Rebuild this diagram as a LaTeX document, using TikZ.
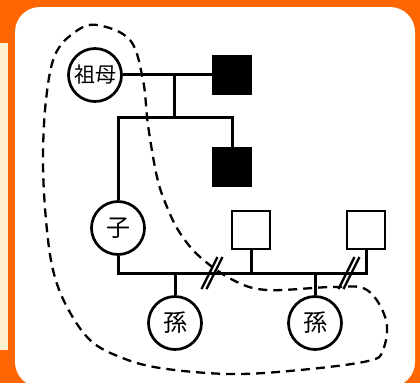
\documentclass[tikz,border=0pt]{standalone}
\usepackage{fontspec}
\newfontfamily\jp{Noto Sans CJK JP}
\definecolor{bgorange}{HTML}{FF6600}
\definecolor{cream}{HTML}{FFF1CF}
\begin{document}
\begin{tikzpicture}[x=1pt,y=-1pt,
  line/.style={line width=3pt},
  person/.style={circle,draw,line width=2.7pt,minimum size=53pt,inner sep=0pt,font=\jp\fontsize{24}{24}\selectfont},
  elder/.style={person,font=\jp\fontsize{21}{21}\selectfont},
  male/.style={rectangle,draw,line width=2.5pt,minimum size=38pt,inner sep=0pt},
  affected/.style={male,fill=black},
  kin/.style={line width=2.3pt,dash pattern=on 9pt off 6pt}]
\useasboundingbox (0,0) rectangle (420,383);
\clip (0,0) rectangle (420,383);
\fill[bgorange] (0,0) rectangle (420,383);
\fill[cream] (0,43) rectangle (8,350);
\fill[white,rounded corners=25pt] (15,7) rectangle (415,387);

% people
\node[elder] (gm) at (95,75) {祖母};
\node[affected] (gf) at (232,75) {};
\node[affected] (un) at (232,167) {};
\node[person] (ch) at (118,228) {子};
\node[male] (h1) at (251,230) {};
\node[male] (h2) at (366,230) {};
\node[person] (g1) at (175,323) {孫};
\node[person] (g2) at (315,323) {孫};

% coordinates
\coordinate (m1) at (174,74);
\coordinate (sib) at (174,117);
\coordinate (ml) at (0,273);
\coordinate (d1) at (212,273);
\coordinate (d2) at (349,273);

% grandparents
\draw[line] (gm.east |- m1) -- (gf.west |- m1);
\draw[line] (m1) -- (sib);
\draw[line] (ch.north) -- (ch.north |- sib) -- (un.north |- sib) -- (un.north);
% marriage line
\draw[line] (ch.south) -- (ch.south |- ml) -- (h2.south |- ml) -- (h2.south);
\draw[line] (h1.south) -- (h1.south |- ml);
\draw[line] (g1.north) -- (g1.north |- ml);
\draw[line] (g2.north) -- (g2.north |- ml);
% divorce slashes
\foreach \c in {d1,d2}{
  \draw[line width=2.3pt] ([shift={(-2.5,0)}]\c) ++(-8,16) -- ++(16,-32);
  \draw[line width=2.3pt] ([shift={(2.5,0)}]\c) ++(-8,16) -- ++(16,-32);
}

% kinship boundary
\draw[kin] plot[smooth cycle,tension=0.6] coordinates {
 (97,25) (130,40) (143,80) (148,125) (157,177) (167,207) (180,233)
 (200,257) (233,280) (267,290) (333,287) (367,290) (386,320) (383,350)
 (368,361) (300,370) (230,374) (160,368) (120,357) (90,340) (67,307)
 (53,270) (46,220) (43,160) (46,100) (55,55) (75,32)};
\end{tikzpicture}
\end{document}
